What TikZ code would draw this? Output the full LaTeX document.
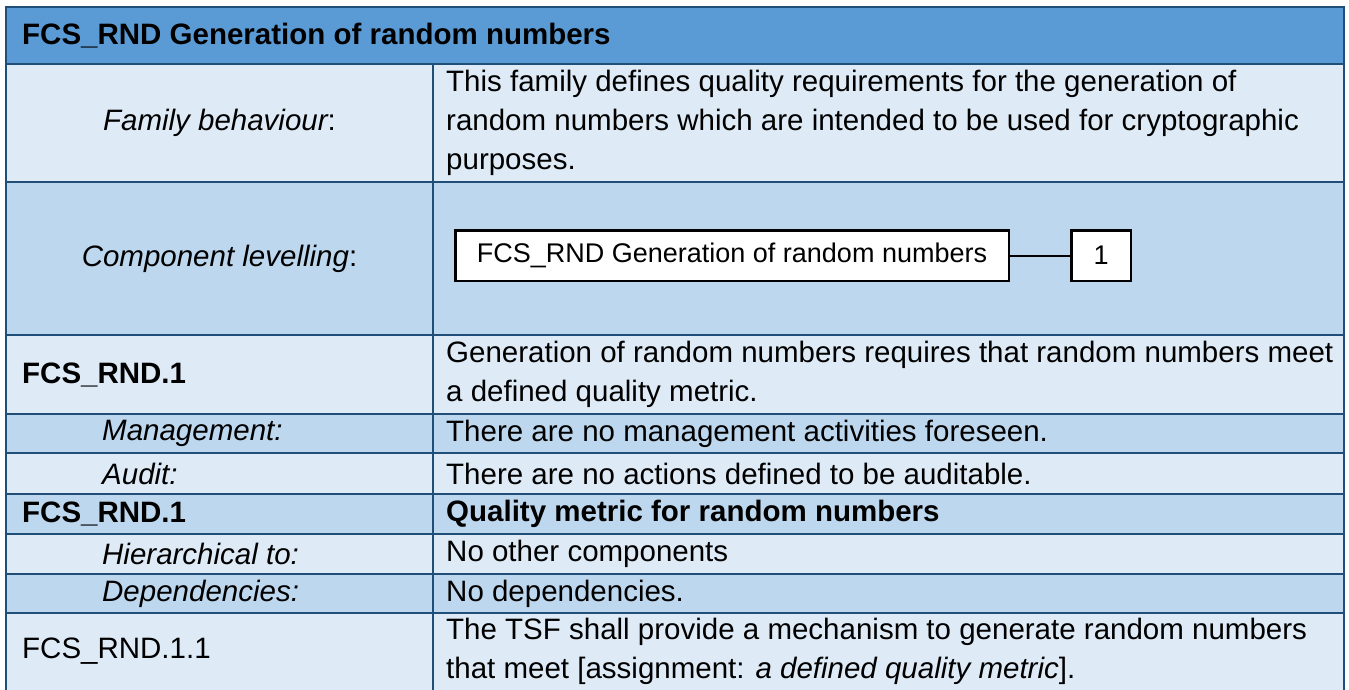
\documentclass[tikz,border=0pt]{standalone}
\usepackage{fontspec}
\setmainfont{Liberation Sans}
\usepackage{tikz}
\definecolor{hdblue}{HTML}{5B9BD5}
\definecolor{rowdark}{HTML}{BDD7EE}
\definecolor{rowlight}{HTML}{DEEBF7}
\definecolor{rulecol}{HTML}{1F4E79}
\begin{document}
\begin{tikzpicture}[x=1pt,y=-1pt,font=\fontsize{29.5}{39}\selectfont,
		txt/.style={anchor=west,inner sep=0pt,align=left},
		lbl/.style={inner sep=0pt},
		grid/.style={draw=rulecol,line width=2pt},
		comp/.style={draw=black,line width=2.5pt,fill=white,minimum height=50.5pt,inner sep=0pt,font=\fontsize{27}{32}\selectfont}]
			\useasboundingbox(0,0)rectangle(1349,690);
			% row shading
			\fill[hdblue](6,7)rectangle(1344,64);
			\fill[rowlight](6,64)rectangle(1344,182);
			\fill[rowdark](6,182)rectangle(1344,335);
			\fill[rowlight](6,335)rectangle(1344,414);
			\fill[rowdark](6,414)rectangle(1344,453);
			\fill[rowlight](6,453)rectangle(1344,494);
			\fill[rowdark](6,494)rectangle(1344,534);
			\fill[rowlight](6,534)rectangle(1344,574);
			\fill[rowdark](6,574)rectangle(1344,613);
			\fill[rowlight](6,613)rectangle(1344,694);
			% rules
			\draw[grid](6,694)--(6,7)--(1344,7)--(1344,694);
			\draw[grid](6,64)--(1344,64)(6,182)--(1344,182)(6,335)--(1344,335)(6,414)--(1344,414)(6,453)--(1344,453);
			\draw[grid](6,494)--(1344,494)(6,534)--(1344,534)(6,574)--(1344,574)(6,613)--(1344,613);
			\draw[grid](433,64)--(433,694);
			% left column
			\node[txt](title)at(22,35.5){\bfseries FCS\_RND Generation of random numbers};
			\node[lbl](fb)at(219.5,123){\itshape Family behaviour\upshape:};
			\node[lbl](cl)at(219.5,258.5){\itshape Component levelling\upshape:};
			\node[txt](rnd)at(22,374.5){\bfseries FCS\_RND.1};
			\node[txt](mgmt)at(102,433.5){\itshape Management:};
			\node[txt](aud)at(102,473.5){\itshape Audit:};
			\node[txt](rndb)at(22,514){\bfseries FCS\_RND.1};
			\node[txt](hier)at(102,554){\itshape Hierarchical to:};
			\node[txt](dep)at(102,593.5){\itshape Dependencies:};
			\node[txt](el)at(22,651.5){FCS\_RND.1.1};
			% right column
			\node[txt](fbtxt)at(446,123){This family defines quality requirements for the generation of\\random numbers which are intended to be used for cryptographic\\purposes.};
			\node[txt](rndtxt)at(446,374.5){Generation of random numbers requires that random numbers meet\\a defined quality metric.};
			\node[txt](mgmttxt)at(446,433.5){There are no management activities foreseen.};
			\node[txt](audtxt)at(446,473.5){There are no actions defined to be auditable.};
			\node[txt](rndbtxt)at(446,514){\bfseries Quality metric for random numbers};
			\node[txt](hiertxt)at(446,554){No other components};
			\node[txt](deptxt)at(446,593.5){No dependencies.};
			\node[txt](eltxt)at(446,651.5){The TSF shall provide a mechanism to generate random numbers\\that meet [assignment: \textit{a defined quality metric}].};
			% levelling diagram
			\node[comp,minimum width=553.5pt](fam)at(732,255.5){FCS\_RND Generation of random numbers};
			\node[comp,minimum width=59.5pt](lvl)at(1101,255.5){1};
			\draw[line width=2pt](fam)--(lvl);
		\end{tikzpicture}
\end{document}
